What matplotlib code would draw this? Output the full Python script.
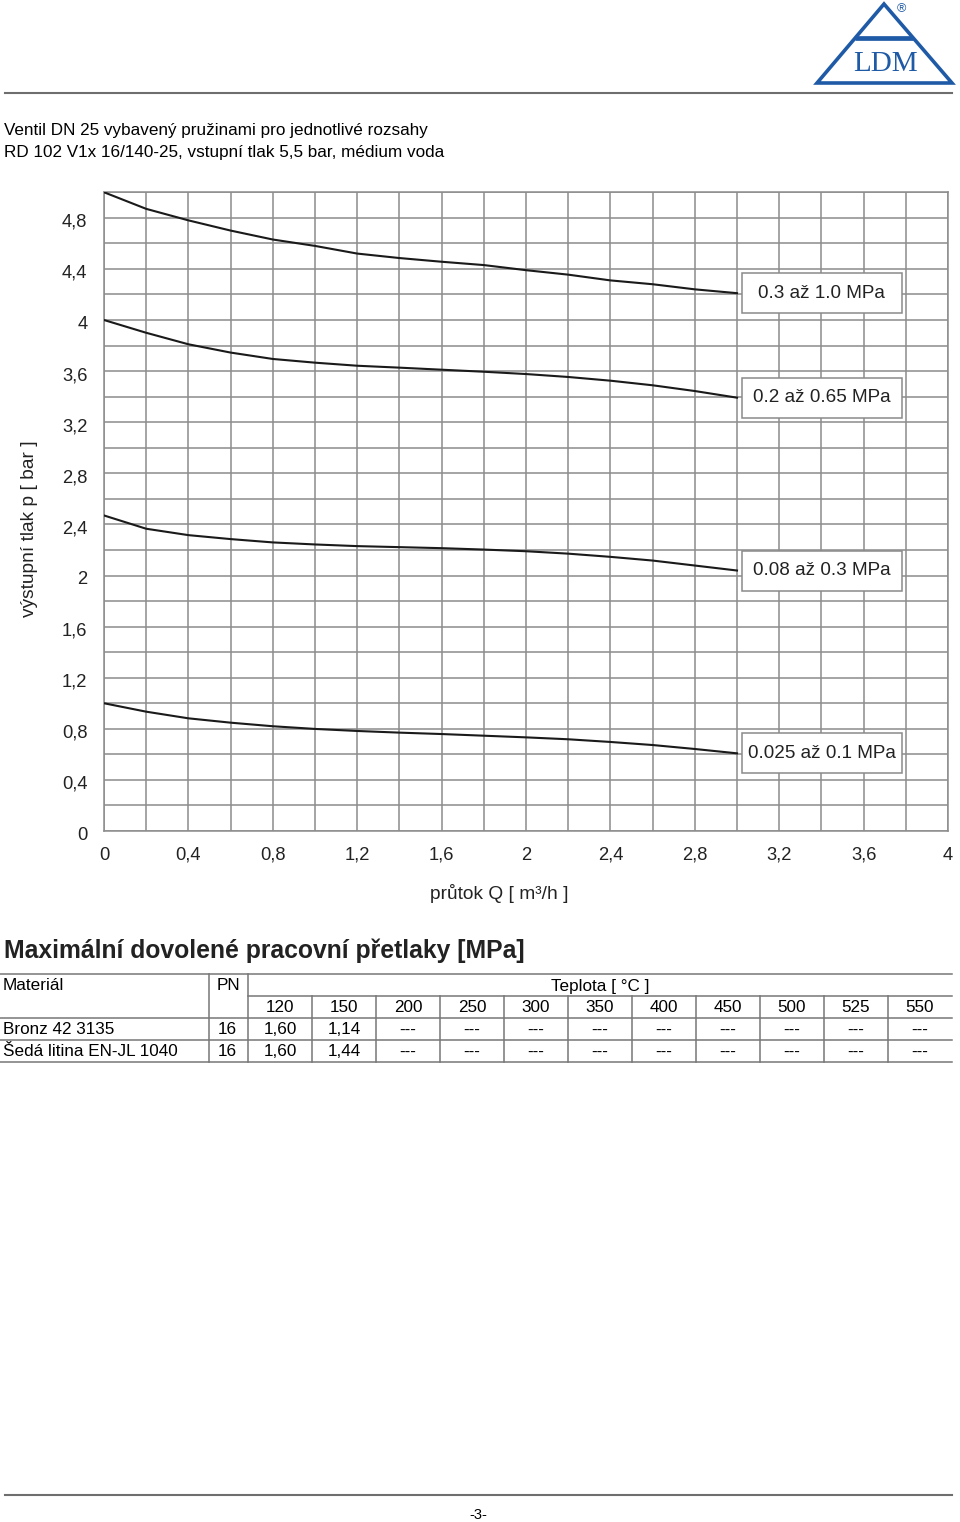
from matplotlib import pyplot as plt
from matplotlib.patches import Rectangle, Polygon
from matplotlib.transforms import ScaledTranslation
import numpy as np


DPI = 100
W, H = 960, 1522

plt.rcParams["font.family"] = ["Liberation Sans", "DejaVu Sans"]

flow = [0.0, 0.2, 0.4, 0.6, 0.8, 1.0, 1.2, 1.4, 1.6, 1.8, 2.0, 2.2, 2.4, 2.6, 2.8, 3.0]

# outlet pressure [bar] for each spring range
p_03_10 = [5.00, 4.87, 4.78, 4.70, 4.63, 4.58, 4.52, 4.485, 4.456, 4.43,
           4.39, 4.355, 4.31, 4.28, 4.24, 4.21]
p_02_065 = [4.00, 3.90, 3.81, 3.745, 3.695, 3.666, 3.642, 3.627, 3.611, 3.595,
            3.577, 3.554, 3.525, 3.489, 3.444, 3.392]
p_008_03 = [2.47, 2.366, 2.316, 2.285, 2.259, 2.243, 2.23, 2.222, 2.214, 2.203,
            2.19, 2.171, 2.146, 2.117, 2.078, 2.039]
p_0025_01 = [1.00, 0.934, 0.882, 0.848, 0.82, 0.799, 0.783, 0.77, 0.759, 0.746,
             0.733, 0.718, 0.697, 0.673, 0.642, 0.608]

curves = [p_03_10, p_02_065, p_008_03, p_0025_01]
curve_labels = ["0.3 až 1.0 MPa", "0.2 až 0.65 MPa", "0.08 až 0.3 MPa", "0.025 až 0.1 MPa"]

x_ticks = [0, 0.4, 0.8, 1.2, 1.6, 2, 2.4, 2.8, 3.2, 3.6, 4]
y_ticks = [0, 0.4, 0.8, 1.2, 1.6, 2, 2.4, 2.8, 3.2, 3.6, 4, 4.4, 4.8]

header_lines = [
    "Ventil DN 25 vybavený pružinami pro jednotlivé rozsahy",
    "RD 102 V1x 16/140-25, vstupní tlak 5,5 bar, médium voda",
]

# table of max. working pressures
temps = ["120", "150", "200", "250", "300", "350", "400", "450", "500", "525", "550"]
materials = ["Bronz 42 3135", "Šedá litina EN-JL 1040"]
pn = ["16", "16"]
pressures = [
    ["1,60", "1,14", "---", "---", "---", "---", "---", "---", "---", "---", "---"],
    ["1,60", "1,44", "---", "---", "---", "---", "---", "---", "---", "---", "---"],
]

BLUE = "#1f5aa6"
GRID = "#8c8c8c"
LINE = "#777777"
BODY = 12.3


def comma(v):
    return f"{v:g}".replace(".", ",")


fig = plt.figure(figsize=(W / DPI, H / DPI), dpi=DPI)

# page layer in pixel coordinates
page = fig.add_axes([0, 0, 1, 1])
page.set_xlim(0, W)
page.set_ylim(H, 0)
page.axis("off")

# logo
tri = Polygon([(884, 4), (817, 83), (952, 83)], closed=True, fill=False,
              edgecolor=BLUE, linewidth=2.6, joinstyle="miter")
page.add_patch(tri)
page.plot([855, 913], [37.5, 37.5], color=BLUE, lw=3.4, solid_capstyle="butt")
page.text(885, 64, "LDM", family="Liberation Serif", fontsize=21, color=BLUE,
          ha="center", va="center")
page.text(901, 9, "®", fontsize=9, color=BLUE, ha="center", va="center")

page.plot([5, 952], [93, 93], color="#6e6e6e", lw=1.5)
for i, line in enumerate(header_lines):
    page.text(4, 130 + 22 * i, line, fontsize=BODY, ha="left", va="center")

# chart
ax = fig.add_axes([104 / W, (H - 831) / H, 844 / W, 638.75 / H])
ax.set_xlim(0, 4)
ax.set_ylim(0, 5)
ax.set_xticks(x_ticks)
ax.set_xticklabels([comma(v) for v in x_ticks])
ax.set_yticks(y_ticks)
ax.set_yticklabels([comma(v) for v in y_ticks])
ax.set_xticks(np.arange(0, 4.01, 0.2), minor=True)
ax.set_yticks(np.arange(0, 5.01, 0.2), minor=True)
ax.grid(True, which="both", color=GRID, lw=1.1)
ax.set_axisbelow(True)
ax.tick_params(which="both", length=0)
ax.tick_params(axis="x", pad=11.5, labelsize=13.2, colors="#222222")
ax.tick_params(axis="y", pad=12, labelsize=13.2, colors="#222222")
shift = ScaledTranslation(0, -2.5 / DPI, fig.dpi_scale_trans)
for lab in ax.get_yticklabels():
    lab.set_transform(lab.get_transform() + shift)
for s in ax.spines.values():
    s.set_color(GRID)
    s.set_linewidth(1.1)

box_w, box_h = 160 / 211, 40 / 127.75
for ys, lab in zip(curves, curve_labels):
    ax.plot(flow, ys, color="#1a1a1a", lw=1.5, zorder=3)
    x0 = flow[-1] + 0.022
    ax.add_patch(Rectangle((x0, ys[-1] - box_h / 2), box_w, box_h,
                           facecolor="white", edgecolor="#8a8a8a", lw=1.1, zorder=4))
    ax.text(x0 + box_w / 2, ys[-1], lab, fontsize=13.6, ha="center", va="center",
            color="#222222", zorder=5)

fig.text(30 / W, 1 - 529 / H, "výstupní tlak p [ bar ]", rotation=90,
         fontsize=13.8, ha="center", va="center", color="#222222")
fig.text(499 / W, 1 - 893 / H, "průtok Q [ m³/h ]", fontsize=13.8,
         ha="center", va="center", color="#222222")

# table
page.text(4, 951, "Maximální dovolené pracovní přetlaky [MPa]", fontsize=17.8,
          fontweight="bold", ha="left", va="center", color="#222222")
for y, x1 in [(974, 0), (996, 248), (1018, 0), (1040, 0), (1062, 0)]:
    page.plot([x1, 952], [y, y], color=LINE, lw=1.1)
for x in [209, 248]:
    page.plot([x, x], [974, 1062], color=LINE, lw=1.1)
col_w = (952 - 248) / len(temps)
for k in range(1, len(temps)):
    xk = 248 + col_w * k
    page.plot([xk, xk], [996, 1062], color=LINE, lw=1.1)

page.text(3, 986, "Materiál", fontsize=BODY, ha="left", va="center")
page.text(228, 986, "PN", fontsize=BODY, ha="center", va="center")
page.text(600, 986, "Teplota [ °C ]", fontsize=BODY, ha="center", va="center")
for k, t in enumerate(temps):
    page.text(248 + col_w * (k + 0.5), 1008, t, fontsize=BODY, ha="center", va="center")
for r, (mat, p, vals) in enumerate(zip(materials, pn, pressures)):
    yr = 1030 + 22 * r
    page.text(3, yr, mat, fontsize=BODY, ha="left", va="center")
    page.text(227, yr, p, fontsize=BODY, ha="center", va="center")
    for k, v in enumerate(vals):
        page.text(248 + col_w * (k + 0.5), yr, v, fontsize=BODY, ha="center", va="center")

# footer
page.plot([5, 952], [1495, 1495], color="#6e6e6e", lw=1.5)
page.text(478, 1515, "-3-", fontsize=10.5, ha="center", va="center")

fig.savefig("out.png", dpi=DPI)
